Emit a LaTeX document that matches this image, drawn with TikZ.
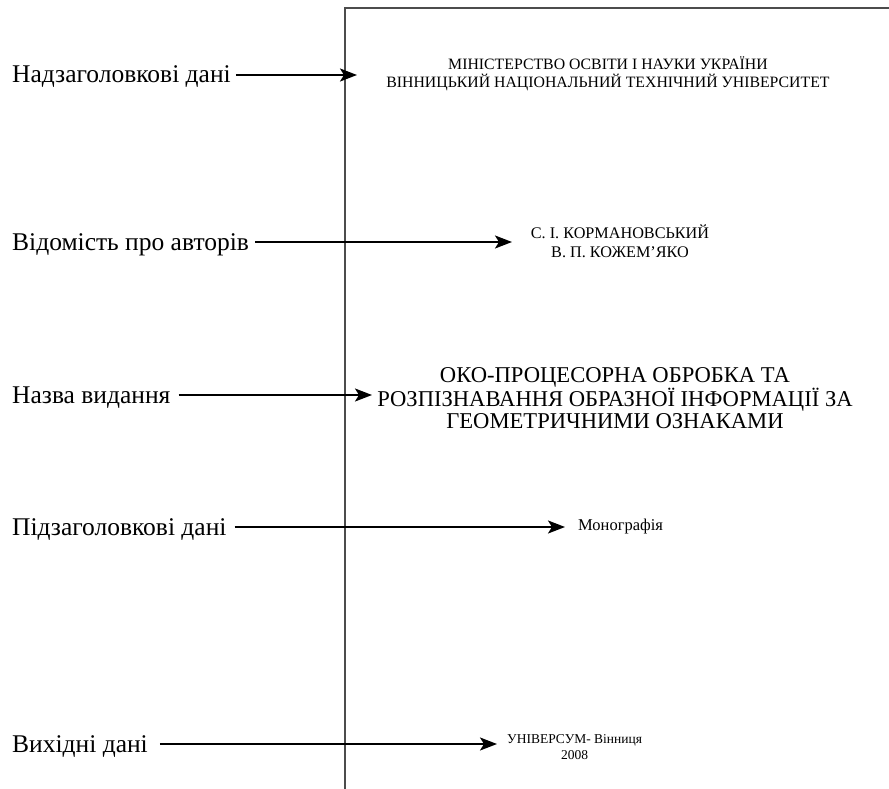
\documentclass[tikz,border=0pt]{standalone}
\usepackage{fontspec}
\setmainfont{Liberation Serif}
\usetikzlibrary{arrows.meta}
\begin{document}
\begin{tikzpicture}[x=1pt,y=-1pt,
  lbl/.style={anchor=base west,inner sep=0pt,font=\fontsize{25.5}{30}\selectfont},
  arr/.style={line width=2pt,-{Stealth[length=17pt,width=13pt,inset=4pt]}},
  frame/.style={draw=black!70,line width=1.3pt},
  hdr/.style={align=center,inner sep=0pt,font=\fontsize{15.8}{18}\selectfont},
  auth/.style={align=center,inner sep=0pt,font=\fontsize{16.2}{19.5}\selectfont},
  ttl/.style={align=center,inner sep=0pt,font=\fontsize{22.6}{21.5}\selectfont},
  small/.style={align=center,inner sep=0pt,font=\fontsize{16.5}{16.5}\selectfont},
  pub/.style={align=center,inner sep=0pt,font=\fontsize{13.5}{16.5}\selectfont}
]
\useasboundingbox (0,0) rectangle (889,789);
\draw[frame] (345,789) -- (345,8) -- (889,8);

% left labels
\node[lbl] (l1) at (12,83) {Надзаголовкові дані};
\node[lbl] (l2) at (12,250) {Відомість про авторів};
\node[lbl] (l3) at (12,403) {Назва видання};
\node[lbl] (l4) at (12,535) {Підзаголовкові дані};
\node[lbl] (l5) at (12,752) {Вихідні дані};

% page contents
\node[hdr] (t1) at (608,74) {МІНІСТЕРСТВО ОСВІТИ І НАУКИ УКРАЇНИ\\ВІННИЦЬКИЙ НАЦІОНАЛЬНИЙ ТЕХНІЧНИЙ УНІВЕРСИТЕТ};
\node[auth] (t2) at (620,241) {С. І. КОРМАНОВСЬКИЙ\\В. П. КОЖЕМ'ЯКО};
\node[ttl] (t3) at (615,398) {ОКО-ПРОЦЕСОРНА ОБРОБКА ТА\\РОЗПІЗНАВАННЯ ОБРАЗНОЇ ІНФОРМАЦІЇ ЗА\\ГЕОМЕТРИЧНИМИ ОЗНАКАМИ};
\node[small,anchor=west] (t4) at (578,527) {Монографія};
\node[pub,anchor=west] (t5) at (507,747) {УНІВЕРСУМ- Вінниця\\2008};

% arrow end points
\coordinate (e1) at (357,75);
\coordinate (e2) at (512,242);
\coordinate (e3) at (372,395);
\coordinate (e4) at (565,527);
\coordinate (e5) at (497,744);

\draw[arr] ([xshift=5pt]l1.east |- e1) -- (e1);
\draw[arr] ([xshift=6pt]l2.east |- e2) -- (e2);
\draw[arr] ([xshift=8pt]l3.east |- e3) -- (e3);
\draw[arr] ([xshift=8pt]l4.east |- e4) -- (e4);
\draw[arr] ([xshift=12pt]l5.east |- e5) -- (e5);
\end{tikzpicture}
\end{document}
